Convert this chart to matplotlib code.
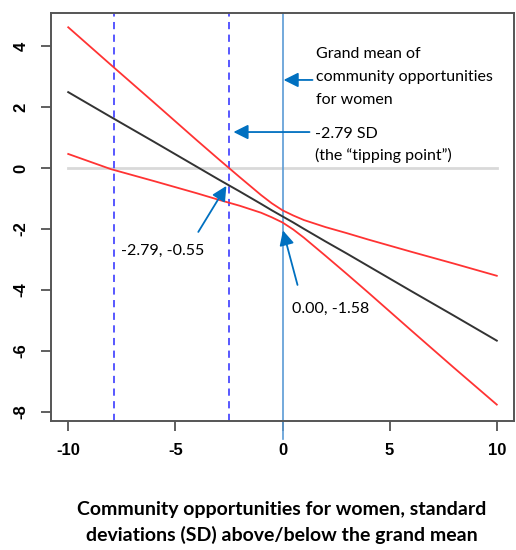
import matplotlib.pyplot as plt

# values
x_pts = [-10, -8, -6, -4, -3, -2, -1, -0.5, 0, 0.5, 1, 2, 3, 4, 6, 8, 10]
fit = [2.49, 1.67, 0.86, 0.04, -0.37, -0.77, -1.18, -1.39, -1.59, -1.79, -2.0,
       -2.41, -2.81, -3.22, -4.04, -4.85, -5.67]
upper = [4.62, 3.38, 2.15, 0.91, 0.30, -0.30, -0.89, -1.16, -1.39, -1.56, -1.71,
         -1.94, -2.14, -2.35, -2.75, -3.14, -3.54]
lower = [0.46, -0.04, -0.43, -0.83, -1.04, -1.24, -1.47, -1.62, -1.79, -2.02, -2.29,
         -2.88, -3.48, -4.09, -5.33, -6.56, -7.77]
dashed_x = [-7.85, -2.48]
mean_x = 0
xticks = [-10, -5, 0, 5, 10]
yticks = [4, 2, 0, -2, -4, -6, -8]

fig = plt.figure(figsize=(5.16, 5.5), dpi=100)
ax = fig.add_axes([0.099, 0.235, 0.897, 0.742])

ax.plot([-10, 10], [0, 0], color='#d9d9d9', lw=2)
for xv in dashed_x:
    ax.axvline(xv, color='#4a4aff', lw=1.3, ls=(0, (4, 3)))
ax.axvline(mean_x, ymin=-0.045, ymax=1.0, color='#5b9bd5', lw=1.2, clip_on=False)

ax.plot(x_pts, upper, color='#ff3333', lw=1.3)
ax.plot(x_pts, lower, color='#ff3333', lw=1.3)
ax.plot(x_pts, fit, color='#333333', lw=1.4)

ax.set_xlim(-10.8, 10.8)
ax.set_ylim(-8.3, 5.1)
ax.set_xticks(xticks)
ax.set_yticks(yticks)
ax.set_xticklabels([str(v) for v in xticks], fontsize=12, fontweight='bold',
                   family='Liberation Sans')
ax.set_yticklabels([str(v) for v in yticks], fontsize=12, fontweight='bold',
                   family='Liberation Sans', rotation=90, va='center')
ax.tick_params(axis='both', length=7, width=1.2, color='#444444', pad=9)
for s in ax.spines.values():
    s.set_color('#555555')
    s.set_linewidth(1.4)

# annotations
arrow = dict(arrowstyle='-|>', color='#0070c0', lw=1.3, mutation_scale=22,
             shrinkA=0, shrinkB=0)
tfont = dict(family='Lato', fontsize=11.5, color='black', va='top', ha='left',
             linespacing=1.6)

ax.annotate('', xy=(0.05, 2.89), xytext=(1.40, 2.89), arrowprops=arrow)
ax.text(1.54, 3.97, 'Grand mean of\ncommunity opportunities\nfor women',
        **{**tfont, 'linespacing': 1.8})

ax.annotate('', xy=(-2.29, 1.18), xytext=(1.26, 1.18), arrowprops=arrow)
ax.text(1.50, 1.36, '-2.79 SD\n(the \u201ctipping point\u201d)', **tfont)

ax.annotate('', xy=(-2.62, -0.59), xytext=(-3.93, -2.10), arrowprops=arrow)
ax.text(-7.52, -2.50, '-2.79, -0.55', **tfont)

ax.annotate('', xy=(0.02, -2.05), xytext=(0.70, -3.84), arrowprops=arrow)
ax.text(0.45, -4.40, '0.00, -1.58', **tfont)

fig.text(282 / 516, 0.05,
         'Community opportunities for women, standard\ndeviations (SD) above/below the grand mean',
         ha='center', va='center', fontsize=14, fontweight='bold', family='Lato',
         linespacing=1.5)

fig.savefig('out.png', dpi=100)
